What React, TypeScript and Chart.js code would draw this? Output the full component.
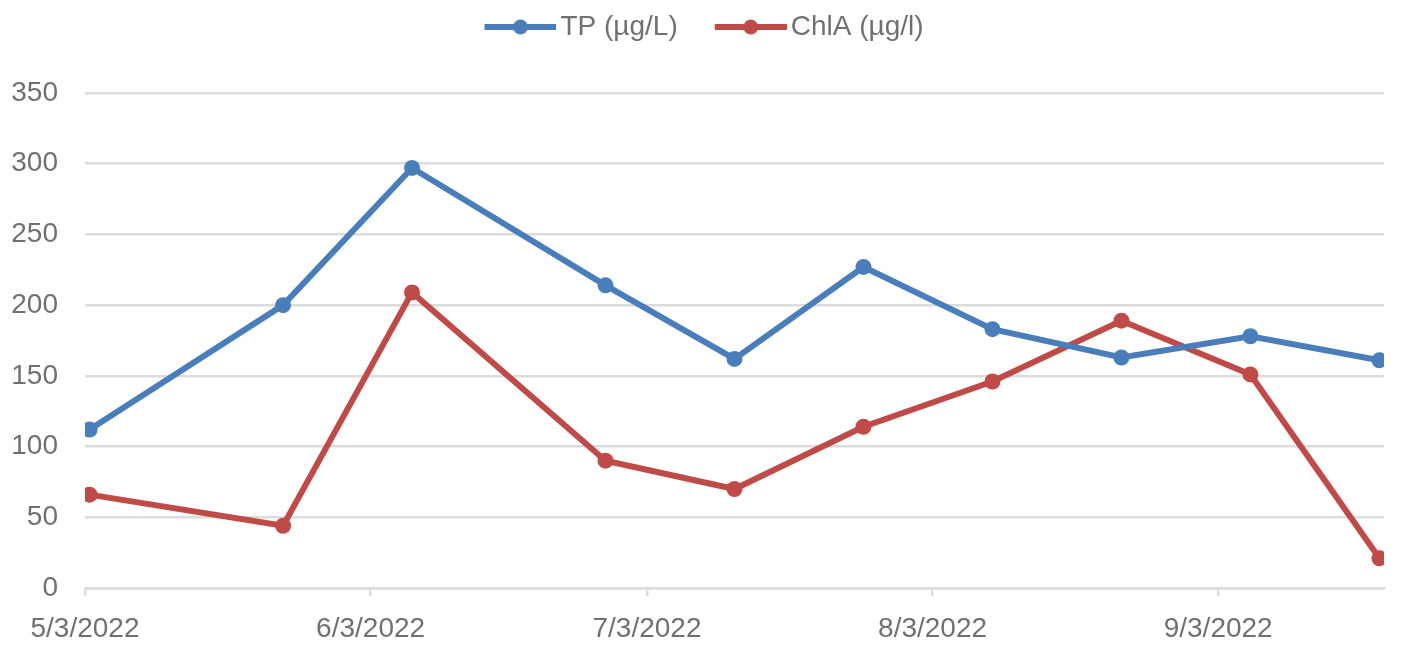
import React, { useEffect, useRef } from 'react';
import { Chart, registerables } from 'chart.js';

Chart.register(...registerables);

// ---- data ----
const sampleDates = [
  '2022-05-03', '2022-05-24', '2022-06-07', '2022-06-28', '2022-07-12',
  '2022-07-26', '2022-08-09', '2022-08-23', '2022-09-06', '2022-09-20',
];
const tpValues = [112, 200, 297, 214, 162, 227, 183, 163, 178, 161];
const chlaValues = [66, 44, 209, 90, 70, 114, 146, 189, 151, 21];
const seriesNames = ['TP (µg/L)', 'ChlA (µg/l)'];
const seriesColors = ['#4A7EBB', '#BE4B48'];
const tickDates = ['2022-05-03', '2022-06-03', '2022-07-03', '2022-08-03', '2022-09-03'];
const tickLabels = ['5/3/2022', '6/3/2022', '7/3/2022', '8/3/2022', '9/3/2022'];
const axisEndDate = '2022-09-21';
const yMin = 0;
const yMax = 350;
const yStep = 50;

// ---- helpers ----
const DAY_MS = 86400000;
const startMs = Date.parse(tickDates[0]);
const dayOf = (d: string) => (Date.parse(d) - startMs) / DAY_MS;
// points sit in the middle of their day slot (date axis)
const toPoints = (vals: number[]) => sampleDates.map((d, i) => ({ x: dayOf(d) + 0.5, y: vals[i] }));

const FONT = "'Liberation Sans', Arial, sans-serif";
const TEXT = '#707070';
const GRID = '#dcdcdc';

function legendImage(color: string): HTMLCanvasElement {
  const c = document.createElement('canvas');
  const w = 106;
  const h = 18;
  c.width = w;
  c.height = h;
  const ctx = c.getContext('2d')!;
  const x0 = 34;
  const x1 = 106;
  ctx.strokeStyle = color;
  ctx.lineWidth = 6;
  ctx.beginPath();
  ctx.moveTo(x0, h / 2);
  ctx.lineTo(x1, h / 2);
  ctx.stroke();
  ctx.fillStyle = color;
  ctx.beginPath();
  ctx.arc((x0 + x1) / 2, h / 2, 7.5, 0, Math.PI * 2);
  ctx.fill();
  return c;
}

export default function App() {
  const ref = useRef<HTMLCanvasElement>(null);

  useEffect(() => {
    if (!ref.current) return;
    const images = seriesColors.map(legendImage);
    const mkDataset = (i: number, vals: number[]) => ({
      label: seriesNames[i],
      data: toPoints(vals),
      borderColor: seriesColors[i],
      backgroundColor: seriesColors[i],
      borderWidth: 6,
      pointRadius: 8,
      pointBorderWidth: 0,
      pointBackgroundColor: seriesColors[i],
      tension: 0,
    });
    const chart = new Chart(ref.current, {
      type: 'line',
      data: {
        datasets: [mkDataset(0, tpValues), mkDataset(1, chlaValues)],
      },
      options: {
        animation: false,
        responsive: true,
        maintainAspectRatio: false,
        layout: { padding: { left: 0, right: 21, top: 0, bottom: 0 } },
        plugins: {
          tooltip: { enabled: false },
          legend: {
            position: 'top',
            labels: {
              usePointStyle: true,
              pointStyleWidth: 86,
              padding: 13,
              color: TEXT,
              font: { family: FONT, size: 28 },
              generateLabels: (ch: any) =>
                ch.data.datasets.map((ds: any, i: number) => ({
                  text: ds.label,
                  fillStyle: seriesColors[i],
                  strokeStyle: seriesColors[i],
                  lineWidth: 0,
                  pointStyle: images[i],
                  hidden: false,
                  datasetIndex: i,
                  fontColor: TEXT,
                })),
            },
          },
          title: {
            display: true,
            text: '',
            weight: 500,
            font: { size: 10, lineHeight: 1.2 },
            padding: { top: 0, bottom: 30 },
          } as any,
        },
        scales: {
          x: {
            type: 'linear',
            min: 0,
            max: dayOf(axisEndDate),
            afterBuildTicks: (scale: any) => {
              scale.ticks = tickDates.map((d) => ({ value: dayOf(d) }));
            },
            afterFit: (scale: any) => {
              scale.height = 79;
            },
            ticks: {
              autoSkip: false,
              maxRotation: 0,
              padding: 16,
              color: TEXT,
              font: { family: FONT, size: 28 },
              callback: (_v: any, i: number) => tickLabels[i],
            },
            grid: {
              drawOnChartArea: false,
              drawTicks: true,
              tickLength: 8,
              color: GRID,
              lineWidth: 2.5,
            },
            border: { display: true, color: GRID, width: 2.5 },
          },
          y: {
            min: yMin,
            max: yMax,
            afterFit: (scale: any) => {
              scale.width = 85;
            },
            ticks: {
              stepSize: yStep,
              padding: 27,
              color: TEXT,
              font: { family: FONT, size: 28 },
            },
            grid: { color: GRID, lineWidth: 2.5, drawTicks: false },
            border: { display: false },
          },
        },
      },
    });
    return () => chart.destroy();
  }, []);

  return (
    <div style={{ position: 'absolute', left: 0, top: 0, width: 1405, height: 667, background: '#fff' }}>
      <canvas ref={ref} />
    </div>
  );
}
